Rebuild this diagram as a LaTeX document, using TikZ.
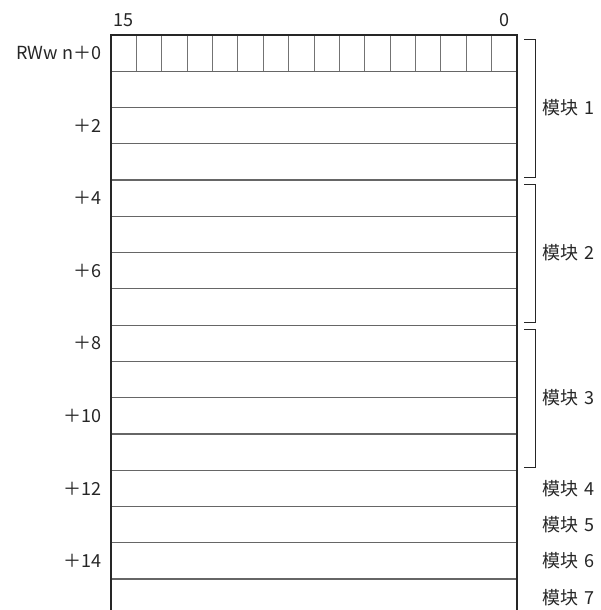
\documentclass[tikz,border=0pt]{standalone}
\usepackage{fontspec}
\setmainfont{Noto Sans CJK SC}
\begin{document}
\begin{tikzpicture}[x=1pt,y=-1pt,
  lbl/.style={inner sep=0pt,font=\fontsize{18}{21}\selectfont,text=black!85},
  rowline/.style={draw=black!60,line width=1.2pt},
  cellline/.style={draw=black!55,line width=1pt},
  border/.style={draw=black!85,line width=2pt},
  brk/.style={draw=black!85,line width=0.9pt}]
\useasboundingbox (0,0) rectangle (601,610);
\def\rh{36.27}
\def\cw{25.375}
% coordinates of the frame
\coordinate (tl) at (111,35);
\coordinate (tr) at (517,35);
\coordinate (bl) at (111,610);
\coordinate (br) at (517,610);
% row lines
\foreach \k in {1,...,15}{
  \coordinate (rl\k) at (111,35+\k*\rh);
  \coordinate (rr\k) at (517,35+\k*\rh);
  \draw[rowline] (rl\k) -- (rr\k);
}
% bit cells in first row
\foreach \i in {1,...,15}{
  \coordinate (ct\i) at (111+\i*\cw,35);
  \coordinate (cb\i) at (111+\i*\cw,35+\rh);
  \draw[cellline] (ct\i) -- (cb\i);
}
% frame
\draw[border] (bl) -- (tl) -- (tr) -- (br);
% bit numbers
\node[lbl,anchor=base] (b15) at (111+0.5*\cw,27) {15};
\node[lbl,anchor=base] (b0) at (517-0.5*\cw,27) {0};
% left labels
\node[lbl,anchor=east] (w0) at (102,35+0.5*\rh) {RWw\hspace{5pt}n＋0};
\foreach \k in {2,4,...,14}{
  \node[lbl,anchor=east] (w\k) at (102,35+\k*\rh+0.5*\rh) {＋\k};
}
% brackets
\foreach \m in {0,1,2}{
  \coordinate (ka\m) at (524,35+4*\m*\rh+4);
  \coordinate (kb\m) at (535,35+4*\m*\rh+4);
  \coordinate (kc\m) at (535,35+4*\m*\rh+4*\rh-3);
  \coordinate (kd\m) at (524,35+4*\m*\rh+4*\rh-3);
  \draw[brk] (ka\m) -- (kb\m) -- (kc\m) -- (kd\m);
}
% module labels
\node[lbl,anchor=west] (m1) at (542,35+2*\rh) {模块\hspace{6pt}1};
\node[lbl,anchor=west] (m2) at (542,35+6*\rh) {模块\hspace{6pt}2};
\node[lbl,anchor=west] (m3) at (542,35+10*\rh) {模块\hspace{6pt}3};
\node[lbl,anchor=west] (m4) at (542,35+12.5*\rh) {模块\hspace{6pt}4};
\node[lbl,anchor=west] (m5) at (542,35+13.5*\rh) {模块\hspace{6pt}5};
\node[lbl,anchor=west] (m6) at (542,35+14.5*\rh) {模块\hspace{6pt}6};
\node[lbl,anchor=west] (m7) at (542,35+15.5*\rh) {模块\hspace{6pt}7};
\end{tikzpicture}
\end{document}
